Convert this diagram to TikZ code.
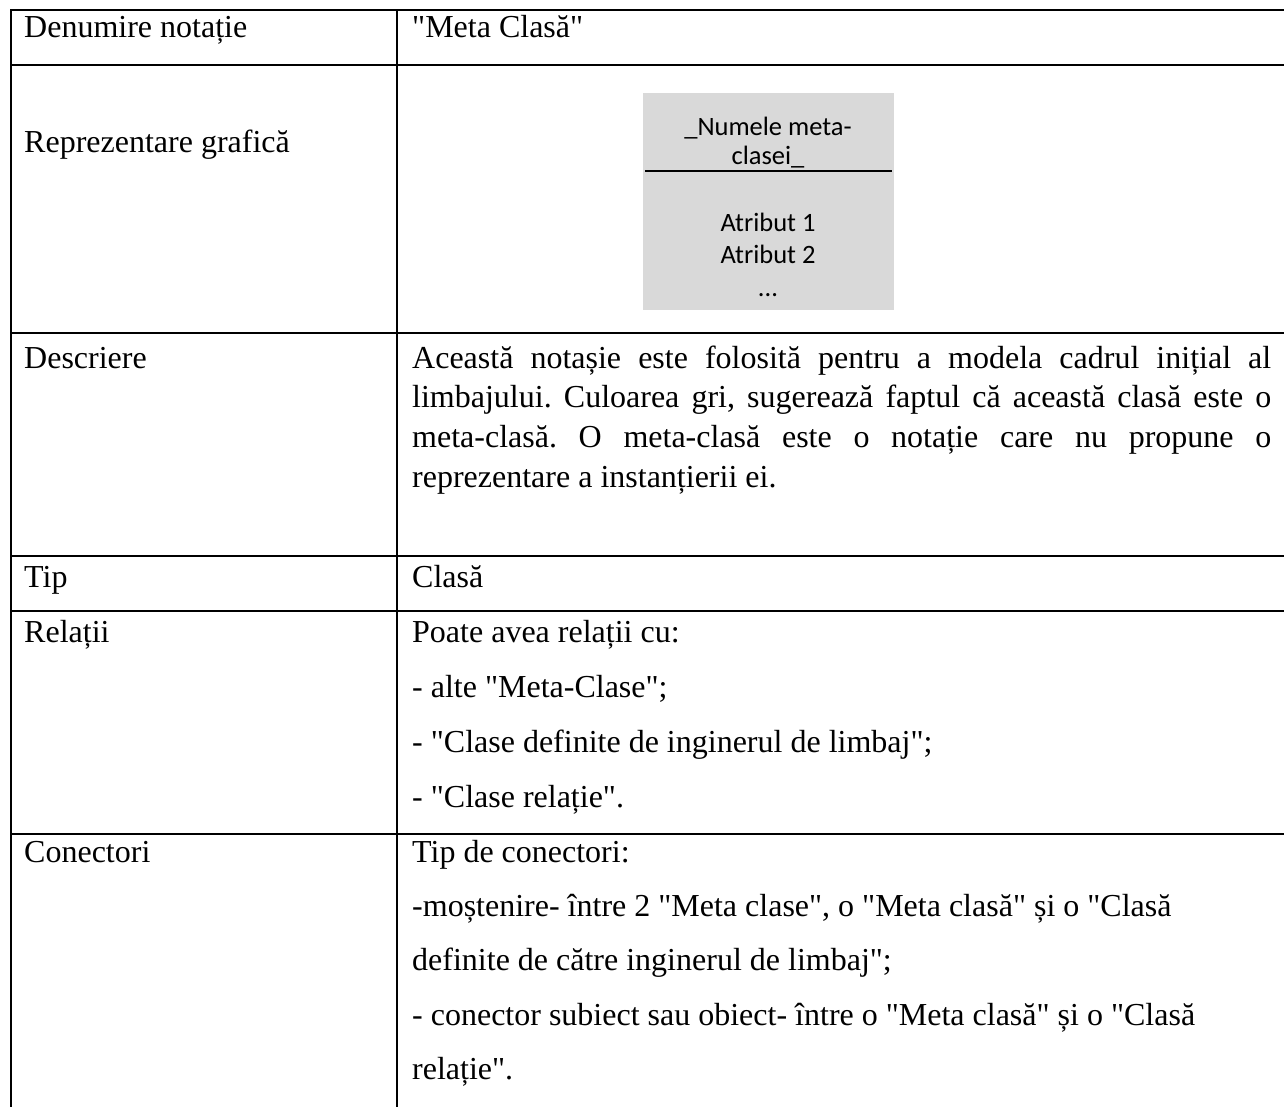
\documentclass[tikz,border=0pt]{standalone}
\usepackage{fontspec}
\newfontfamily\tnr{Liberation Serif}
\newfontfamily\calib{Carlito}
\definecolor{boxgray}{HTML}{D9D9D9}
\frenchspacing
\begin{document}
\begin{tikzpicture}[x=1pt,y=-1pt,
  rule/.style={line width=2pt,black},
  cell/.style={anchor=base west,inner sep=0pt,font=\tnr\fontsize{32}{38}\selectfont},
  boxtxt/.style={anchor=base,inner sep=0pt,font=\calib\fontsize{26.5}{32}\selectfont}]
\fill[white] (0,0) rectangle (1284,1107);
\useasboundingbox (0,0) rectangle (1284,1107);

% table rules
\draw[rule] (1284,10) -- (11,10) -- (11,1107);
\draw[rule] (397,10) -- (397,1107);
\foreach \yy in {65,333,556,611,834}
  \draw[rule] (11,\yy) -- (1284,\yy);

% row: name
\node[cell] (k1) at (24,38) {Denumire notație};
\node[cell] (v1) at (412,38) {"Meta Clasă"};

% row: graphic representation
\node[cell] (k2) at (24,153) {Reprezentare grafică};
\node[fill=boxgray,inner sep=0pt,minimum width=251pt,minimum height=217pt] (box) at (768.5,201.5) {};
\node[boxtxt] (bn1) at (768,136) {\_Numele meta-};
\node[boxtxt] (bn2) at (768,165) {clasei\_};
\draw[line width=1.3pt] (645,171) -- (892,171);
\node[boxtxt] (ba1) at (768,232) {Atribut 1};
\node[boxtxt] (ba2) at (768,264) {Atribut 2};
\node[boxtxt] (ba3) at (768,296) {...};

% row: description
\node[cell] (k3) at (24,368) {Descriere};
\node[cell] (d1) at (412,368) {\makebox[859pt][s]{Această notașie este folosită pentru a modela cadrul inițial al}};
\node[cell] (d2) at (412,407.5) {\makebox[859pt][s]{limbajului. Culoarea gri, sugerează faptul că această clasă este o}};
\node[cell] (d3) at (412,447) {\makebox[859pt][s]{meta-clasă. O meta-clasă este o notație care nu propune o}};
\node[cell] (d4) at (412,487) {reprezentare a instanțierii ei.};

% row: type
\node[cell] (k4) at (24,587) {Tip};
\node[cell] (v4) at (412,587) {Clasă};

% row: relations
\node[cell] (k5) at (24,642) {Relații};
\node[cell] (r1) at (412,642) {Poate avea relații cu:};
\node[cell] (r2) at (412,697) {- alte "Meta-Clase";};
\node[cell] (r3) at (412,752) {- "Clase definite de inginerul de limbaj";};
\node[cell] (r4) at (412,807) {- "Clase relație".};

% row: connectors
\node[cell] (k6) at (24,862) {Conectori};
\node[cell] (c1) at (412,862) {Tip de conectori:};
\node[cell] (c2) at (412,916) {-moștenire- între 2 "Meta clase", o "Meta clasă" și o "Clasă};
\node[cell] (c3) at (412,970) {definite de către inginerul de limbaj";};
\node[cell] (c4) at (412,1025) {- conector subiect sau obiect- între o "Meta clasă" și o "Clasă};
\node[cell] (c5) at (412,1079) {relație".};
\end{tikzpicture}
\end{document}
